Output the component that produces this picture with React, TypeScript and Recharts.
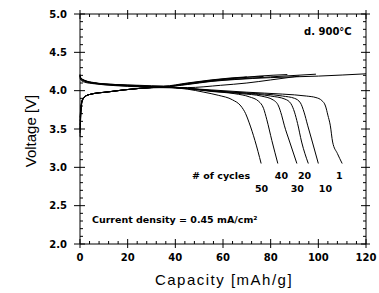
import React from "react";
import { LineChart, Line, XAxis, YAxis, ReferenceDot } from "recharts";

// axis ticks
const capTicks = [0, 20, 40, 60, 80, 100, 120];
const voltTicks = [2.0, 2.5, 3.0, 3.5, 4.0, 4.5, 5.0];
const capMinor = Array.from({ length: 31 }, (_, i) => i * 4);
const voltMinor = Array.from({ length: 31 }, (_, i) => (20 + i) / 10);

// charge curves [capacity, voltage]
const charge1 = [[0, 4.2], [0.3, 4.16], [2, 4.13], [6, 4.1], [15, 4.075], [25, 4.06], [35, 4.05], [45, 4.08], [55, 4.12], [65, 4.145], [80, 4.17], [100, 4.19], [120, 4.22]];
const charge10 = [[0, 4.19], [0.3, 4.15], [2, 4.12], [6, 4.095], [15, 4.07], [25, 4.055], [35, 4.05], [45, 4.085], [55, 4.125], [65, 4.15], [80, 4.18], [99, 4.215]];
const charge20 = [[0, 4.17], [0.3, 4.14], [2, 4.11], [6, 4.09], [15, 4.065], [25, 4.05], [35, 4.04], [45, 4.04], [59, 4.07], [70, 4.1], [80, 4.14], [92, 4.19]];
const charge30 = [[0, 4.2], [0.3, 4.16], [2, 4.13], [6, 4.1], [15, 4.075], [25, 4.06], [35, 4.05], [45, 4.09], [55, 4.13], [65, 4.16], [75, 4.19], [87, 4.21]];
const charge40 = [[0, 4.21], [0.3, 4.17], [2, 4.13], [6, 4.1], [15, 4.08], [25, 4.065], [35, 4.055], [45, 4.095], [55, 4.135], [65, 4.165], [77, 4.185]];
const charge50 = [[0, 4.21], [0.3, 4.17], [2, 4.135], [6, 4.105], [15, 4.08], [25, 4.07], [35, 4.06], [45, 4.1], [55, 4.14], [63, 4.165], [70, 4.18]];

// discharge curves [capacity, voltage]
const discharge1 = [[0, 3.4], [0.3, 3.65], [0.8, 3.84], [2, 3.92], [4, 3.95], [12, 3.985], [25, 4.03], [35, 4.045], [45, 4.03], [55, 4.01], [70, 3.98], [85, 3.955], [95, 3.93], [99, 3.91], [101.5, 3.87], [103, 3.8], [104, 3.68], [105, 3.55], [106, 3.33], [108, 3.18], [110, 3.05]];
const discharge10 = [[0, 3.45], [0.3, 3.68], [0.8, 3.85], [2, 3.92], [4, 3.95], [12, 3.985], [25, 4.03], [35, 4.045], [45, 4.03], [55, 4.0], [70, 3.97], [85, 3.93], [90, 3.9], [92.5, 3.84], [94, 3.72], [95.5, 3.55], [97.5, 3.33], [100, 3.05]];
const discharge20 = [[0, 3.5], [0.3, 3.7], [0.8, 3.86], [2, 3.92], [4, 3.95], [12, 3.985], [25, 4.03], [35, 4.045], [45, 4.03], [55, 4.0], [70, 3.965], [80, 3.93], [86, 3.89], [88.5, 3.83], [90, 3.72], [91.3, 3.57], [93, 3.33], [95.8, 3.05]];
const discharge30 = [[0, 3.55], [0.3, 3.72], [0.8, 3.86], [2, 3.92], [4, 3.95], [12, 3.985], [25, 4.03], [35, 4.045], [45, 4.03], [55, 3.995], [68, 3.96], [76, 3.93], [81, 3.88], [83.3, 3.8], [84.6, 3.68], [85.7, 3.55], [88, 3.33], [91, 3.05]];
const discharge40 = [[0, 3.6], [0.3, 3.74], [0.8, 3.87], [2, 3.92], [4, 3.95], [12, 3.985], [25, 4.03], [35, 4.045], [45, 4.025], [55, 3.99], [65, 3.96], [71, 3.92], [75, 3.86], [77, 3.77], [78.4, 3.62], [80.5, 3.35], [83, 3.05]];
const discharge50 = [[0, 3.65], [0.3, 3.76], [0.8, 3.87], [2, 3.92], [4, 3.95], [12, 3.985], [25, 4.03], [35, 4.04], [45, 4.02], [52, 3.98], [58, 3.94], [64, 3.88], [67.5, 3.8], [69.5, 3.7], [71, 3.58], [73.4, 3.35], [76, 3.05]];

const toPts = (arr: number[][]) => arr.map(([c, v]) => ({ c, v }));
// built once so every render sees the same arrays
const series = [charge1, charge10, charge20, charge30, charge40, charge50, discharge1, discharge10, discharge20, discharge30, discharge40, discharge50].map(toPts);
const framePts = toPts(charge1);

const tickFont = { fontFamily: "DejaVu Sans", fontWeight: "bold" as const, fontSize: 10, fill: "#000" };

const isMajorC = (v: number) => capTicks.includes(v);
const isMajorV = (v: number) => voltTicks.some((t) => Math.abs(t - v) < 1e-6);

const BottomTick = (props: any) => {
  const { x, y, payload } = props;
  const major = isMajorC(payload.value);
  return (
    <g>
      <path d={`M${x},${major ? y + 4 : y}V${y - (major ? 5 : 3)}`} stroke="#000" strokeWidth={1} />
      {major && (
        <text x={x} y={y + 17} textAnchor="middle" {...tickFont}>
          {payload.value}
        </text>
      )}
    </g>
  );
};

const TopTick = (props: any) => {
  const { x, y, payload } = props;
  const major = isMajorC(payload.value);
  return <path d={`M${x},${major ? y - 4 : y}V${y + (major ? 5 : 3)}`} stroke="#000" strokeWidth={1} />;
};

const LeftTick = (props: any) => {
  const { x, y, payload } = props;
  const major = isMajorV(payload.value);
  return (
    <g>
      <path d={`M${major ? x - 6 : x},${y}H${x + (major ? 5 : 3)}`} stroke="#000" strokeWidth={1} />
      {major && (
        <text x={x - 13} y={y} textAnchor="end" dominantBaseline="central" {...tickFont}>
          {payload.value.toFixed(1)}
        </text>
      )}
    </g>
  );
};

const RightTick = (props: any) => {
  const { x, y, payload } = props;
  const major = isMajorV(payload.value);
  return <path d={`M${major ? x + 4 : x},${y}H${x - (major ? 5 : 3)}`} stroke="#000" strokeWidth={1} />;
};

const XTitle = ({ viewBox }: any) =>
  viewBox ? (
    <text
      x={viewBox.x + viewBox.width / 2 + 1}
      y={viewBox.y + viewBox.height - 8}
      textAnchor="middle"
      fontFamily="Liberation Sans"
      fontSize={15}
      letterSpacing={1.5}
      fill="#000"
    >
      Capacity [mAh/g]
    </text>
  ) : null;

const YTitle = ({ viewBox }: any) => {
  if (!viewBox) return null;
  const cx = 30;
  const cy = viewBox.y + viewBox.height / 2 + 2;
  return (
    <text
      x={cx}
      y={cy}
      transform={`rotate(-90, ${cx}, ${cy})`}
      textAnchor="middle"
      dominantBaseline="central"
      fontFamily="Liberation Sans"
      fontSize={15}
      fill="#000"
    >
      Voltage [V]
    </text>
  );
};

// stable elements, created once
const bottomTickEl = <BottomTick />;
const topTickEl = <TopTick />;
const leftTickEl = <LeftTick />;
const rightTickEl = <RightTick />;
const xTitleEl = <XTitle />;
const yTitleEl = <YTitle />;

const note = (text: string, anchor: "start" | "middle" | "end", size = 9.5) => (p: any) => (
  <text
    x={p.cx}
    y={p.cy}
    textAnchor={anchor}
    dominantBaseline="central"
    fontFamily="DejaVu Sans"
    fontWeight="bold"
    fontSize={size}
    fill="#000"
  >
    {text}
  </text>
);

const notes = [
  { c: 104, v: 4.77, shape: note("d. 900°C", "middle", 10) },
  { c: 47, v: 2.9, shape: note("# of cycles", "start") },
  { c: 84.5, v: 2.9, shape: note("40", "middle") },
  { c: 94.2, v: 2.9, shape: note("20", "middle") },
  { c: 108.8, v: 2.9, shape: note("1", "middle") },
  { c: 76.2, v: 2.73, shape: note("50", "middle") },
  { c: 91.2, v: 2.73, shape: note("30", "middle") },
  { c: 103, v: 2.73, shape: note("10", "middle") },
  { c: 5, v: 2.32, shape: note("Current density = 0.45 mA/cm²", "start") },
];

const capDomain = [0, 120];
const voltDomain = [2, 5];
const chartMargin = { top: 0, right: 0, left: 0, bottom: 0 };

export default function App() {
  return (
    <div style={{ position: "absolute", left: 0, top: 0, width: 379, height: 293, background: "#fff" }}>
      <LineChart width={379} height={293} margin={chartMargin}>
        <XAxis
          xAxisId="b"
          dataKey="c"
          type="number"
          domain={capDomain}
          ticks={capMinor}
          interval={0}
          tickSize={0}
          tickMargin={0}
          tickLine={false}
          tick={bottomTickEl}
          stroke="#000"
          height={49}
          label={xTitleEl}
        />
        <XAxis
          xAxisId="t"
          dataKey="c"
          orientation="top"
          type="number"
          domain={capDomain}
          ticks={capMinor}
          interval={0}
          tickSize={0}
          tickMargin={0}
          tickLine={false}
          tick={topTickEl}
          stroke="#000"
          height={14}
        />
        <YAxis
          yAxisId="l"
          type="number"
          domain={voltDomain}
          ticks={voltMinor}
          interval={0}
          tickSize={0}
          tickMargin={0}
          tickLine={false}
          tick={leftTickEl}
          stroke="#000"
          width={80}
          label={yTitleEl}
        />
        <YAxis
          yAxisId="r"
          orientation="right"
          type="number"
          domain={voltDomain}
          ticks={voltMinor}
          interval={0}
          tickSize={0}
          tickMargin={0}
          tickLine={false}
          tick={rightTickEl}
          stroke="#000"
          width={13}
        />
        {series.map((pts, i) => (
          <Line
            key={i}
            xAxisId="b"
            yAxisId="l"
            data={pts}
            dataKey="v"
            type="monotone"
            stroke="#000"
            strokeWidth={1}
            dot={false}
            isAnimationActive={false}
          />
        ))}
        <Line
          key="frame"
          xAxisId="t"
          yAxisId="r"
          data={framePts}
          dataKey="v"
          stroke="none"
          dot={false}
          isAnimationActive={false}
        />
        {notes.map((n, i) => (
          <ReferenceDot key={"n" + i} xAxisId="b" yAxisId="l" x={n.c} y={n.v} r={0} shape={n.shape} />
        ))}
      </LineChart>
    </div>
  );
}
